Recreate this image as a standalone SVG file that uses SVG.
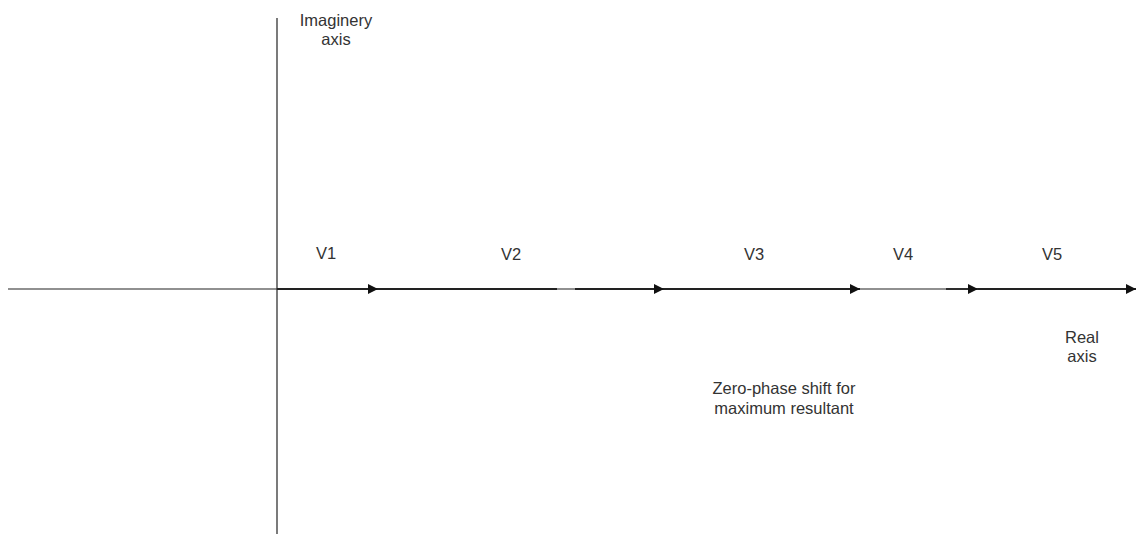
<svg xmlns="http://www.w3.org/2000/svg" width="1136" height="534" viewBox="0 0 1136 534">
<style>
text{font-family:"Liberation Sans",Arial,sans-serif;font-size:16.5px;fill:#333;text-anchor:middle}
.axis{stroke:#222;stroke-width:1.2;fill:none}
.ph{stroke:#222;stroke-width:1.8;fill:none}
</style>
<defs>
<marker id="ah" viewBox="0 0 10 10" refX="10" refY="5" markerWidth="10" markerHeight="10" markerUnits="userSpaceOnUse" orient="auto">
<path d="M0,0 L10,5 L0,10 z" fill="#111"/>
</marker>
</defs>
<rect width="1136" height="534" fill="#fff"/>
<g id="connectors">
<line class="axis" x1="277" y1="18" x2="277" y2="534"/>
<line class="axis" x1="8" y1="289" x2="1136" y2="289"/>
<line class="ph" x1="277" y1="289" x2="378" y2="289" marker-end="url(#ah)"/>
<line class="ph" x1="378" y1="289" x2="557" y2="289"/>
<line class="ph" x1="575" y1="289" x2="664" y2="289" marker-end="url(#ah)"/>
<line class="ph" x1="664" y1="289" x2="860" y2="289" marker-end="url(#ah)"/>
<line class="ph" x1="946" y1="289" x2="978" y2="289" marker-end="url(#ah)"/>
<line class="ph" x1="978" y1="289" x2="1136" y2="289" marker-end="url(#ah)"/>
</g>
<g id="imag-label"><text x="336" y="26">Imaginery</text><text x="336" y="45">axis</text></g>
<g id="v1"><text x="326" y="259">V1</text></g>
<g id="v2"><text x="511" y="260">V2</text></g>
<g id="v3"><text x="754" y="260">V3</text></g>
<g id="v4"><text x="903" y="260">V4</text></g>
<g id="v5"><text x="1052" y="260">V5</text></g>
<g id="real-label"><text x="1082" y="343">Real</text><text x="1082" y="362">axis</text></g>
<g id="note"><text x="784" y="394">Zero-phase shift for</text><text x="784" y="414">maximum resultant</text></g>
</svg>
